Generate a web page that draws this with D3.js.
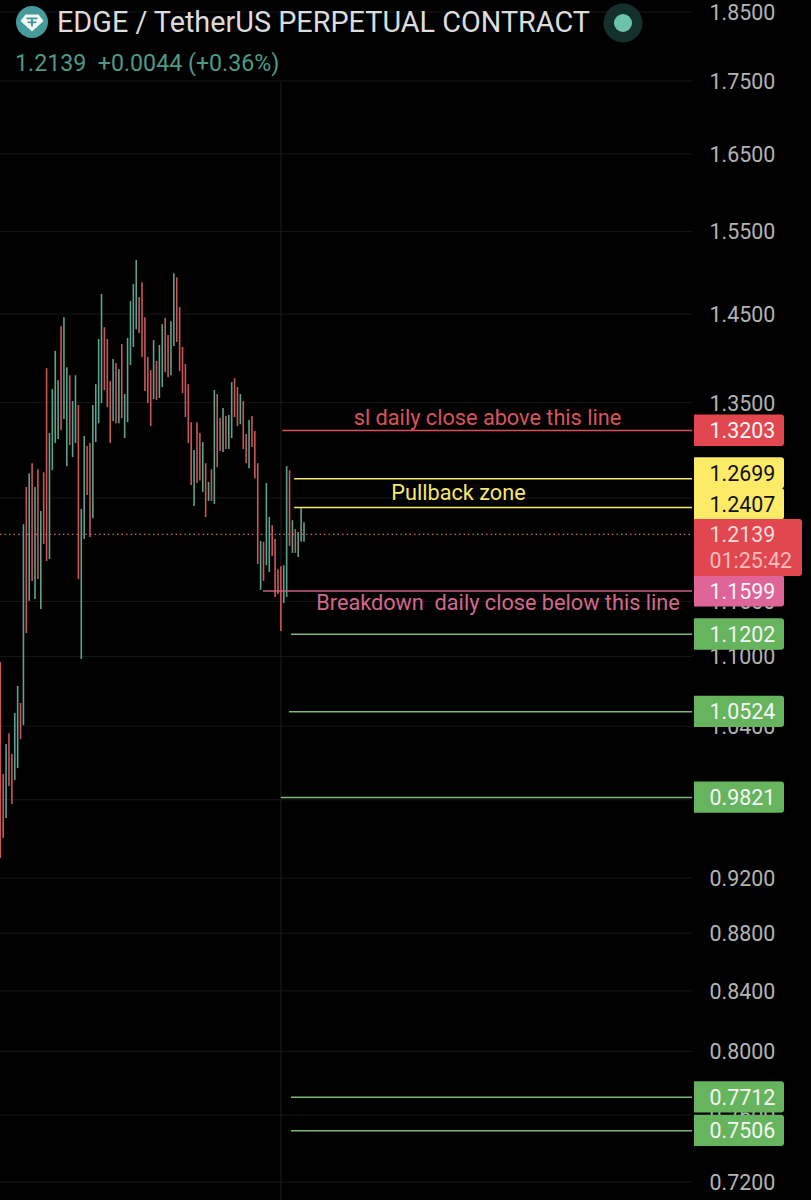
<!DOCTYPE html>
<html><head><meta charset="utf-8">
<style>html,body{margin:0;padding:0;background:#000}svg{display:block}text{font-family:Roboto,sans-serif;white-space:pre}</style>
<script src="https://cdn.jsdelivr.net/npm/d3@7/dist/d3.min.js"></script>
</head><body><svg id="c" width="811" height="1200"></svg>
<script>
const highs=[1.0952,1.0005,1.0251,1.0341,1.0169,1.0510,1.0742,1.0596,1.2239,1.2612,1.2752,1.2857,1.2612,1.2794,1.2370,1.2763,1.3881,1.3173,1.3649,1.4075,1.3747,1.4358,1.4464,1.3892,1.3802,1.3518,1.3802,1.3475,1.2390,1.3141,1.3036,1.3068,1.3475,1.3703,1.4211,1.4736,1.4346,1.4211,1.3736,1.3983,1.3938,1.3869,1.4154,1.3594,1.4223,1.4653,1.4854,1.5146,1.4700,1.4877,1.4464,1.4006,1.3858,1.4199,1.3961,1.4143,1.4382,1.4453,1.4257,1.4417,1.4984,1.4936,1.4582,1.4120,1.3926,1.3703,1.3289,1.2994,1.3289,1.3173,1.3078,1.2857,1.2663,1.2794,1.3638,1.3594,1.3333,1.3442,1.3355,1.3366,1.3725,1.3769,1.3671,1.3594,1.3518,1.3162,1.3311,1.3355,1.3194,1.2857,1.2075,1.2066,1.2653,1.2310,1.2229,1.2095,1.1802,1.1831,1.1841,1.2826,1.2784,1.2279,1.2191,1.2162,1.2411,1.2259];
const lows=[0.9351,0.9503,0.9657,0.9910,0.9767,0.9957,1.0054,1.0292,1.0407,1.1210,1.1505,1.1691,1.1523,1.1709,1.1430,1.2046,1.1881,1.1901,1.2784,1.3068,1.3110,1.3204,1.3322,1.2826,1.3046,1.2920,1.3068,1.1709,1.0979,1.2095,1.2531,1.2114,1.2299,1.3078,1.3278,1.3496,1.3638,1.3453,1.3068,1.3300,1.3278,1.3278,1.3333,1.3120,1.3289,1.3915,1.4120,1.4323,1.4277,1.4006,1.3627,1.3496,1.3247,1.3540,1.3529,1.3551,1.3671,1.3835,1.3780,1.3802,1.4132,1.4177,1.3847,1.3605,1.3344,1.3068,1.2633,1.2420,1.2653,1.2679,1.2562,1.2310,1.2471,1.2471,1.2441,1.2815,1.2984,1.2973,1.3005,1.3005,1.3120,1.3344,1.3247,1.3267,1.3005,1.2857,1.2805,1.3026,1.2700,1.1852,1.1607,1.1691,1.1842,1.1776,1.1930,1.1542,1.1570,1.1228,1.1486,1.1542,1.2027,1.1959,1.1959,1.1920,1.2066,1.2066];
const dirs="rrgrrggrgrgrgrgrrggggrggrggrggrrggggrrrgrgrgggggrrrrrgrggrrggrrrrrrgrrgrgrgrrgrggrrgrrgrrrgrggrrrrggrgrgggr";
const priceTicks=[1.85,1.75,1.65,1.55,1.45,1.35,1.25,1.15,1.10,1.04,0.98,0.92,0.88,0.84,0.80,0.76,0.72];
const levelPrices=[1.3203,1.2699,1.2407,1.1599,1.1202,1.0524,0.9821,0.7712,0.7506];
const levelKinds=["red","yellow","yellow","pink","green","green","green","green","green"];
const levelStarts=[97.5,101.6,101.6,90.8,100.5,99.8,97,100.5,100.5];
const lastPrice=1.2139, countdown="01:25:42";
const notes=[["sl daily close above this line",1.3203,"red"],["Pullback zone",1.2407,"yellow"],["Breakdown  daily close below this line",1.1599,"pink"]];

const colors={red:"#e2474f",yellow:"#fdea66",pink:"#df6498",green:"#67b45f"};
const lineColors={red:"#d9525a",yellow:"#f7e76a",pink:"#c9607f",green:"#7fb67c"};
const noteColors={red:"#d9535b",yellow:"#f7e76a",pink:"#d4688c"};
const up="#5ea28e", down="#c8575c";
const svg=d3.select("#c");
const n=highs.length;
const y=d3.scaleLog().domain([1.85,0.72]).range([12,1182]);
const x=d3.scaleLinear().domain([0,n-1]).range([0.3,304]);
const plotR=692;

svg.append("rect").attr("width",811).attr("height",1200).attr("fill","#000");
svg.append("g").selectAll("line").data(priceTicks).join("line")
  .attr("x1",0).attr("x2",plotR).attr("y1",d=>y(d)).attr("y2",d=>y(d)).attr("stroke","#171717").attr("stroke-width",1);
svg.append("line").attr("x1",x(97)).attr("x2",x(97)).attr("y1",82).attr("y2",1200).attr("stroke","#1e1e1e").attr("stroke-width",1);
const axis=d3.axisRight(y).tickValues(priceTicks).tickFormat(d3.format(".4f")).tickSize(0).tickPadding(0);
const ag=svg.append("g").attr("transform","translate(709.5,0.5)").call(axis);
ag.select(".domain").remove();
ag.selectAll("text").attr("font-family","Roboto,sans-serif").attr("font-size",21.4).attr("fill","#b4b4b4").attr("x",0);
svg.append("line").attr("x1",0).attr("x2",plotR).attr("y1",y(lastPrice)).attr("y2",y(lastPrice))
  .attr("stroke","#d8616a").attr("stroke-width",1.2).attr("stroke-dasharray","1.5 3");
svg.append("g").selectAll("line").data(d3.range(n)).join("line")
  .attr("x1",i=>x(i)).attr("x2",i=>x(i)).attr("y1",i=>y(highs[i])).attr("y2",i=>y(lows[i]))
  .attr("stroke",i=>dirs[i]==="g"?up:down).attr("stroke-width",1.6);
svg.append("g").selectAll("line").data(levelPrices).join("line")
  .attr("x1",(d,i)=>x(levelStarts[i])).attr("x2",plotR).attr("y1",d=>y(d)+0.3).attr("y2",d=>y(d)+0.3)
  .attr("stroke",(d,i)=>lineColors[levelKinds[i]]).attr("stroke-width",1.5);
const noteX=[487.5,458.5,498], noteDy=[-10.5,-13,13];
svg.append("g").selectAll("text").data(notes).join("text")
  .attr("x",(d,i)=>noteX[i]).attr("y",(d,i)=>y(d[1])+noteDy[i]).attr("text-anchor","middle").attr("dominant-baseline","middle")
  .attr("font-size",21.7).attr("fill",d=>noteColors[d[2]]).text(d=>d[0]);
function box(x0,x1,y0,y1,r,fill){
  const p=d3.path();p.moveTo(x0,y0);p.lineTo(x1-r,y0);p.arcTo(x1,y0,x1,y0+r,r);p.lineTo(x1,y1-r);p.arcTo(x1,y1,x1-r,y1,r);p.lineTo(x0,y1);p.closePath();
  svg.append("path").attr("d",p.toString()).attr("fill",fill);
}
const labelNudge={1.2699:-5.6,1.2407:-3.5};
const bh=15.7;
levelPrices.forEach((p,i)=>{
  const cy=y(p)+(labelNudge[p]||0);
  box(694,784,cy-bh,cy+bh,3,colors[levelKinds[i]]);
  svg.append("text").attr("x",709.5).attr("y",cy+0.5).attr("dominant-baseline","central").attr("font-size",21.4)
    .attr("fill",levelKinds[i]==="yellow"?"#111":"#f6f6f6").text(d3.format(".4f")(p));
});
const ly=y(lastPrice);
box(694,802,ly-15.5,ly+41.5,3,"#e2474f");
svg.append("text").attr("x",709.5).attr("y",ly+0.5).attr("dominant-baseline","central").attr("font-size",21.4).attr("fill","#f8dcdc").text(d3.format(".4f")(lastPrice));
svg.append("text").attr("x",709.5).attr("y",ly+26.5).attr("dominant-baseline","central").attr("font-size",21.4).attr("fill","#f6bcbc").text(countdown);
svg.append("circle").attr("cx",32).attr("cy",22).attr("r",16).attr("fill","#479a9a");
svg.append("path").attr("d","M25.5 14.5H38.5L43.5 21L32 31.5L20.5 21Z").attr("fill","#f2f7f7");
svg.append("path").attr("d","M26.5 17.5H37.5V19.3H33V21.2C35 21.3 37 21.7 37 22.3C37 22.9 35 23.3 33 23.4V26.5H31V23.4C29 23.3 27 22.9 27 22.3C27 21.7 29 21.3 31 21.2V19.3H26.5Z").attr("fill","#479a9a");
svg.append("text").attr("x",57).attr("y",22).attr("dominant-baseline","central").attr("font-size",28.8).attr("fill","#dcdcdc").text("EDGE / TetherUS PERPETUAL CONTRACT");
svg.append("text").attr("x",15).attr("y",63).attr("dominant-baseline","central").attr("font-size",23.2).attr("fill","#4f9a85").text("1.2139  +0.0044 (+0.36%)");
svg.append("circle").attr("cx",623).attr("cy",23).attr("r",19.5).attr("fill","#14302c");
svg.append("circle").attr("cx",623).attr("cy",23).attr("r",9).attr("fill","#6cc3ad");
</script></body></html>
